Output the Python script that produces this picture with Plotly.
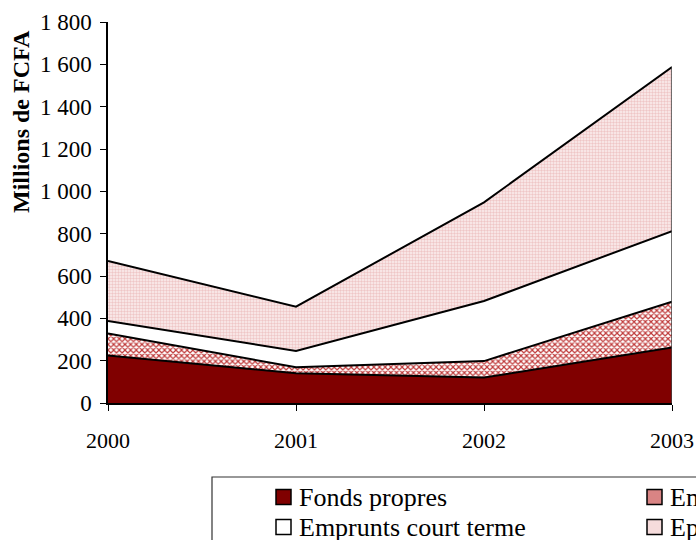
import plotly.graph_objects as go

W, H = 696, 540

years = [2000, 2001, 2002, 2003]
fonds_propres = [225, 140, 120, 262]
emprunts_lt = [104, 29, 78, 217]
emprunts_ct = [58, 77, 284, 333]
epargne = [284, 209, 466, 775]

series_names = ["Fonds propres", "Emprunts long terme", "Emprunts court terme", "Epargne"]
y_ticks = [0, 200, 400, 600, 800, 1000, 1200, 1400, 1600, 1800]
y_ticktext = ["0", "200", "400", "600", "800", "1 000", "1 200", "1 400", "1 600", "1 800"]
x_ticktext = ["2000", "2001", "2002", "2003"]
y_title = "Millions de FCFA"

FONT = "Liberation Serif, Times New Roman, serif"


def px(x):
    return x / W


def py(y):
    return 1 - y / H


fig = go.Figure()

series = [fonds_propres, emprunts_lt, emprunts_ct, epargne]
fills = [
    dict(fillcolor="#800000"),
    dict(fillcolor="white", fillpattern=dict(shape="x", size=4, solidity=0.5,
                                             fgcolor="#bf3a3a", bgcolor="white")),
    dict(fillcolor="white"),
    dict(fillcolor="white", fillpattern=dict(shape=".", size=3, solidity=0.5,
                                             fgcolor="#efc6c6", bgcolor="#fbf0f0")),
]
for name, vals, f in zip(series_names, series, fills):
    fig.add_trace(go.Scatter(
        x=years, y=vals, name=name, mode="lines", stackgroup="one",
        line=dict(color="black", width=2), showlegend=False, **f,
    ))

totals = [a + b + c + d for a, b, c, d in zip(*series)]
fig.add_trace(go.Scatter(x=[years[-1], years[-1]], y=[0, totals[-1]], mode="lines",
                         line=dict(color="#444", width=1.5), showlegend=False,
                         hoverinfo="skip"))

fig.update_layout(
    width=W, height=H,
    margin=dict(l=0, r=0, t=0, b=0),
    paper_bgcolor="white", plot_bgcolor="white",
    template="none",
    font=dict(family=FONT, color="black"),
    showlegend=False,
    xaxis=dict(
        domain=[px(108), px(672)], range=[2000, 2003],
        tickvals=years, ticktext=x_ticktext,
        showgrid=False, zeroline=False,
        showline=True, linecolor="black", linewidth=1.5,
        ticks="outside", ticklen=6, tickcolor="black", tickwidth=1,
        tickfont=dict(size=22, family=FONT), ticklabelstandoff=11,
        automargin=False,
    ),
    yaxis=dict(
        domain=[py(403), py(22)], range=[0, 1800],
        tickvals=y_ticks, ticktext=y_ticktext,
        showgrid=False, zeroline=False,
        showline=True, linecolor="black", linewidth=1.5,
        ticks="outside", ticklen=6, tickcolor="black", tickwidth=1,
        tickfont=dict(size=23, family=FONT), ticklabelstandoff=4,
        automargin=False,
    ),
)

# y-axis title
fig.add_annotation(xref="paper", yref="paper", x=px(21), y=py(122), text="<b>%s</b>" % y_title,
                   textangle=-90, showarrow=False, xanchor="center", yanchor="middle",
                   font=dict(size=24, family=FONT, color="black"))

# manual legend box (extends past the page edge like the reference)
fig.add_shape(type="rect", xref="paper", yref="paper",
              x0=px(212), x1=px(760), y0=py(477), y1=py(600),
              line=dict(color="#333", width=1.2), fillcolor="rgba(0,0,0,0)")

legend_items = [
    (series_names[0], 276, 497, "#800000"),
    (series_names[1], 647, 497, "#d98484"),
    (series_names[2], 276, 527, "white"),
    (series_names[3], 647, 527, "#f6dcdc"),
]
for name, sx, sy, col in legend_items:
    fig.add_shape(type="rect", xref="paper", yref="paper",
                  x0=px(sx), x1=px(sx + 15), y0=py(sy + 7.5), y1=py(sy - 7.5),
                  line=dict(color="black", width=1.5), fillcolor=col)
    fig.add_annotation(xref="paper", yref="paper", x=px(sx + 21), y=py(sy),
                       text=name, showarrow=False, xanchor="left", yanchor="middle",
                       font=dict(size=26, family=FONT, color="black"))

fig.write_html("out.html")
